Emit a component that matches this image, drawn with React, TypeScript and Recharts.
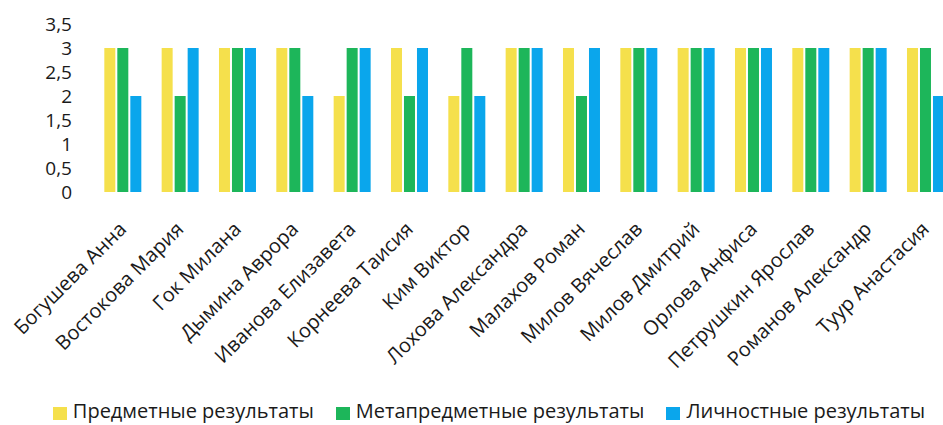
import React from "react";
import { BarChart, Bar, XAxis, YAxis, Legend } from "recharts";

const students = [
  "Богушева Анна",
  "Востокова Мария",
  "Гок Милана",
  "Дымина Аврора",
  "Иванова Елизавета",
  "Корнеева Таисия",
  "Ким Виктор",
  "Лохова Александра",
  "Малахов Роман",
  "Милов Вячеслав",
  "Милов Дмитрий",
  "Орлова Анфиса",
  "Петрушкин Ярослав",
  "Романов Александр",
  "Туур Анастасия",
];

const subjectResults = [3, 3, 3, 3, 2, 3, 2, 3, 3, 3, 3, 3, 3, 3, 3];
const metaResults = [3, 2, 3, 3, 3, 2, 3, 3, 2, 3, 3, 3, 3, 3, 3];
const personalResults = [2, 3, 3, 2, 3, 3, 2, 3, 3, 3, 3, 3, 3, 3, 2];

const yTicks = [0, 0.5, 1, 1.5, 2, 2.5, 3, 3.5];

const seriesNames = [
  "Предметные результаты",
  "Метапредметные результаты",
  "Личностные результаты",
];
const seriesColors = ["#f5e04c", "#1db65a", "#0aa6ec"];

const data = students.map((name, i) => ({
  name,
  subject: subjectResults[i],
  meta: metaResults[i],
  personal: personalResults[i],
}));

const FONT = "'Open Sans', sans-serif";
const TEXT = "#1a1a1a";

const XTick = (props: any) => {
  const { x, y, payload } = props;
  return (
    <text
      x={x}
      y={y}
      transform={`rotate(-45, ${x}, ${y})`}
      textAnchor="end"
      fontFamily={FONT}
      fontSize={20}
      fill={TEXT}
      dx={-18}
      dy={25}
    >
      {payload.value}
    </text>
  );
};

const YTick = (props: any) => {
  const { x, y, payload } = props;
  return (
    <text
      x={x - 14}
      y={y}
      textAnchor="end"
      fontFamily={FONT}
      fontSize={19}
      fill={TEXT}
      dy={7}
    >
      {String(payload.value).replace(".", ",")}
    </text>
  );
};

const LegendContent = () => (
  <div
    style={{
      display: "flex",
      justifyContent: "center",
      alignItems: "center",
      fontFamily: FONT,
      fontSize: 20,
      color: TEXT,
      whiteSpace: "nowrap",
    }}
  >
    {seriesNames.map((n, i) => (
      <span key={n} style={{ display: "inline-flex", alignItems: "center", marginRight: i < 2 ? 22 : 0 }}>
        <span
          style={{
            display: "inline-block",
            width: 14,
            height: 13,
            background: seriesColors[i],
            marginRight: 6,
            marginTop: 6,
          }}
        />
        {n}
      </span>
    ))}
  </div>
);

export default function App() {
  return (
    <div style={{ width: 943, height: 425, overflow: "hidden", background: "#fff" }}>
      <style>{"html,body{margin:0;padding:0;overflow:hidden;}"}</style>
      <BarChart
        width={960}
        height={425}
        data={data}
        margin={{ top: 24, right: 6, left: 0, bottom: 0 }}
        barCategoryGap="18%"
        barGap={2}
      >
        <XAxis
          dataKey="name"
          axisLine={false}
          tickLine={false}
          interval={0}
          height={206}
          tick={<XTick />}
        />
        <YAxis
          domain={[0, 3.5]}
          ticks={yTicks}
          axisLine={false}
          tickLine={false}
          width={94}
          tick={<YTick />}
        />
        <Legend
          verticalAlign="bottom"
          content={<LegendContent />}
          wrapperStyle={{ bottom: 1, left: 0, width: 978 }}
        />
        <Bar dataKey="subject" name={seriesNames[0]} fill={seriesColors[0]} isAnimationActive={false} />
        <Bar dataKey="meta" name={seriesNames[1]} fill={seriesColors[1]} isAnimationActive={false} />
        <Bar dataKey="personal" name={seriesNames[2]} fill={seriesColors[2]} isAnimationActive={false} />
      </BarChart>
    </div>
  );
}
